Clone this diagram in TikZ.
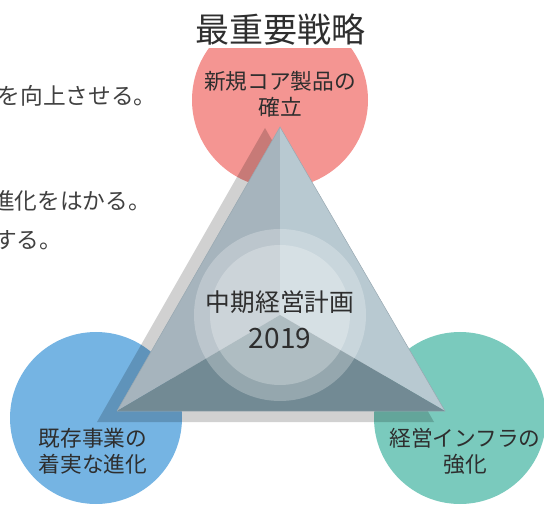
\documentclass[tikz,border=0pt]{standalone}
\usepackage{fontspec}
\setmainfont{Noto Sans CJK JP}
\definecolor{cred}{HTML}{F49592}
\definecolor{cblue}{HTML}{75B4E3}
\definecolor{cgreen}{HTML}{7ACABD}
\definecolor{tleft}{HTML}{A6B4BD}
\definecolor{tright}{HTML}{B8C9D1}
\definecolor{tbottom}{HTML}{728A94}
\definecolor{tedge}{HTML}{98A8B1}
\definecolor{txt}{HTML}{2E2E2E}
\definecolor{txtgray}{HTML}{404040}
\begin{document}
\begin{tikzpicture}[x=1pt,y=-1pt,
  bigcircle/.style={circle,inner sep=0pt,minimum size=172pt},
  lbl/.style={text=txt,align=center,font=\fontsize{21.7}{26}\selectfont},
  sidetext/.style={text=txtgray,anchor=west,inner sep=0pt,text height=0.8em,text depth=0.1em,font=\fontsize{22.7}{26}\selectfont},
  ring/.style={fill=white,fill opacity=0.25}]
\useasboundingbox (0,0) rectangle (544,505);
\clip (0,0) rectangle (544,505);
% side texts (cut at left edge)
\node[sidetext] (s1) at (-2.5,101.5) {を向上させる。};
\node[sidetext] (s2) at (-8,206) {進化をはかる。};
\node[sidetext] (s3) at (-6,245) {する。};
% big circles
\node[bigcircle,fill=cred,minimum size=176pt] (cr) at (280,100) {};
\node[bigcircle,fill=cblue] (cb) at (96,418) {};
\node[bigcircle,fill=cgreen] (cg) at (460,418) {};
% title
\node[fill=white,minimum width=200pt,minimum height=36pt,inner sep=0pt,text=txt,font=\fontsize{34}{40}\selectfont] (title) at (280,30) {最重要戦略};
% shadow triangle
\coordinate (SA) at (265,128);
\coordinate (SL) at (97,422);
\coordinate (SR) at (434,422);
\fill[black,opacity=0.18] (SA) -- (SL) -- (SR) -- cycle;
% front triangle
\coordinate (A) at (280,127);
\coordinate (L) at (117,411);
\coordinate (R) at (445,411);
\coordinate (O) at (280,315);
\fill[tleft] (A) -- (L) -- (O) -- cycle;
\fill[tright] (A) -- (O) -- (R) -- cycle;
\fill[tbottom] (L) -- (R) -- (O) -- cycle;
\draw[tedge,line width=0.5pt,line join=round] (A) -- (L) -- (R) -- cycle;
% center rings
\fill[ring] (O) circle (86);
\fill[ring] (O) circle (70);
% labels
\node[lbl] (lr) at (280,94) {新規コア製品の\\確立};
\node[lbl] (lb) at (93,451) {既存事業の\\着実な進化};
\node[lbl] (lg) at (465,451) {経営インフラの\\強化};
\node[text=txt,font=\fontsize{24.7}{30}\selectfont] (c1) at (280,302) {中期経営計画};
\node[text=txt,font=\fontsize{28}{30}\selectfont] (c2) at (280,339) {2019};
\end{tikzpicture}
\end{document}
